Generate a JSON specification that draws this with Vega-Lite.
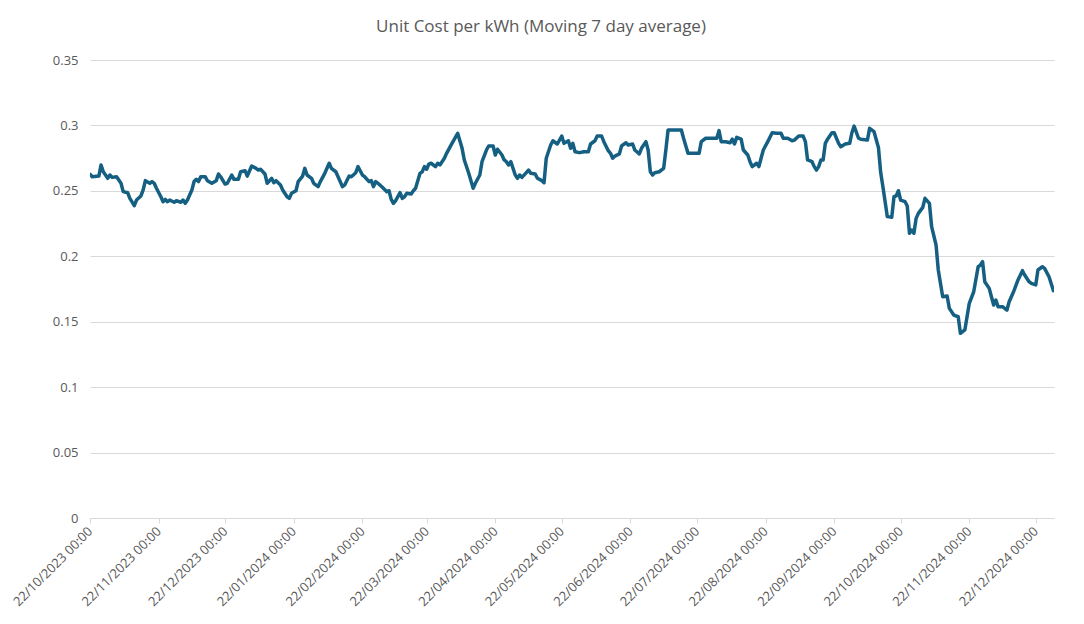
{
  "$schema": "https://vega.github.io/schema/vega-lite/v6.json",
  "width": 964,
  "height": 458,
  "autosize": {"type": "none"},
  "padding": {"left": 90, "top": 60, "right": 30, "bottom": 106},
  "background": "white",
  "title": {
    "text": "Unit Cost per kWh (Moving 7 day average)",
    "fontSize": 17,
    "font": "Open Sans",
    "fontWeight": "normal",
    "color": "#595959",
    "anchor": "middle",
    "dx": -31,
    "offset": 18
  },
  "config": {
    "view": {"stroke": null},
    "axis": {"labelFont": "Open Sans", "labelColor": "#595959", "labelFontSize": 13}
  },
  "data": {
    "values": [
      {"date": "2023-10-22", "cost": 0.2627}, {"date": "2023-10-23", "cost": 0.2608}, {"date": "2023-10-26", "cost": 0.2613}, {"date": "2023-10-27", "cost": 0.2698}, {"date": "2023-10-28", "cost": 0.2646}, {"date": "2023-10-30", "cost": 0.2596}, {"date": "2023-10-31", "cost": 0.2621},
      {"date": "2023-11-01", "cost": 0.2603}, {"date": "2023-11-03", "cost": 0.2608}, {"date": "2023-11-04", "cost": 0.2583}, {"date": "2023-11-05", "cost": 0.2558}, {"date": "2023-11-06", "cost": 0.2494}, {"date": "2023-11-08", "cost": 0.2486}, {"date": "2023-11-09", "cost": 0.2443}, {"date": "2023-11-11", "cost": 0.2387}, {"date": "2023-11-12", "cost": 0.2430}, {"date": "2023-11-14", "cost": 0.2461}, {"date": "2023-11-15", "cost": 0.2507}, {"date": "2023-11-16", "cost": 0.2578}, {"date": "2023-11-18", "cost": 0.2558}, {"date": "2023-11-19", "cost": 0.2571}, {"date": "2023-11-20", "cost": 0.2558}, {"date": "2023-11-21", "cost": 0.2520}, {"date": "2023-11-23", "cost": 0.2455}, {"date": "2023-11-24", "cost": 0.2417}, {"date": "2023-11-25", "cost": 0.2435}, {"date": "2023-11-26", "cost": 0.2417}, {"date": "2023-11-27", "cost": 0.2430}, {"date": "2023-11-29", "cost": 0.2413}, {"date": "2023-11-30", "cost": 0.2425},
      {"date": "2023-12-02", "cost": 0.2413}, {"date": "2023-12-03", "cost": 0.2430}, {"date": "2023-12-04", "cost": 0.2405}, {"date": "2023-12-05", "cost": 0.2430}, {"date": "2023-12-07", "cost": 0.2507}, {"date": "2023-12-08", "cost": 0.2571}, {"date": "2023-12-09", "cost": 0.2588}, {"date": "2023-12-10", "cost": 0.2571}, {"date": "2023-12-11", "cost": 0.2608}, {"date": "2023-12-13", "cost": 0.2608}, {"date": "2023-12-14", "cost": 0.2578}, {"date": "2023-12-16", "cost": 0.2558}, {"date": "2023-12-18", "cost": 0.2578}, {"date": "2023-12-19", "cost": 0.2629}, {"date": "2023-12-20", "cost": 0.2608}, {"date": "2023-12-22", "cost": 0.2552}, {"date": "2023-12-23", "cost": 0.2558}, {"date": "2023-12-25", "cost": 0.2621}, {"date": "2023-12-26", "cost": 0.2588}, {"date": "2023-12-28", "cost": 0.2588}, {"date": "2023-12-29", "cost": 0.2646}, {"date": "2023-12-31", "cost": 0.2654},
      {"date": "2024-01-01", "cost": 0.2613}, {"date": "2024-01-03", "cost": 0.2690}, {"date": "2024-01-05", "cost": 0.2672}, {"date": "2024-01-06", "cost": 0.2659}, {"date": "2024-01-07", "cost": 0.2665}, {"date": "2024-01-09", "cost": 0.2629}, {"date": "2024-01-10", "cost": 0.2558}, {"date": "2024-01-12", "cost": 0.2596}, {"date": "2024-01-13", "cost": 0.2562}, {"date": "2024-01-14", "cost": 0.2578}, {"date": "2024-01-16", "cost": 0.2545}, {"date": "2024-01-17", "cost": 0.2507}, {"date": "2024-01-19", "cost": 0.2455}, {"date": "2024-01-20", "cost": 0.2443}, {"date": "2024-01-21", "cost": 0.2481}, {"date": "2024-01-23", "cost": 0.2501}, {"date": "2024-01-24", "cost": 0.2571}, {"date": "2024-01-26", "cost": 0.2613}, {"date": "2024-01-27", "cost": 0.2672}, {"date": "2024-01-28", "cost": 0.2621}, {"date": "2024-01-30", "cost": 0.2596}, {"date": "2024-01-31", "cost": 0.2558},
      {"date": "2024-02-02", "cost": 0.2532}, {"date": "2024-02-03", "cost": 0.2571}, {"date": "2024-02-05", "cost": 0.2634}, {"date": "2024-02-07", "cost": 0.2711}, {"date": "2024-02-08", "cost": 0.2672}, {"date": "2024-02-10", "cost": 0.2646}, {"date": "2024-02-11", "cost": 0.2608}, {"date": "2024-02-13", "cost": 0.2532}, {"date": "2024-02-14", "cost": 0.2545}, {"date": "2024-02-16", "cost": 0.2613}, {"date": "2024-02-17", "cost": 0.2608}, {"date": "2024-02-19", "cost": 0.2639}, {"date": "2024-02-20", "cost": 0.2685}, {"date": "2024-02-22", "cost": 0.2621}, {"date": "2024-02-23", "cost": 0.2608}, {"date": "2024-02-25", "cost": 0.2571}, {"date": "2024-02-26", "cost": 0.2578}, {"date": "2024-02-27", "cost": 0.2532}, {"date": "2024-02-28", "cost": 0.2571}, {"date": "2024-02-29", "cost": 0.2558},
      {"date": "2024-03-02", "cost": 0.2527}, {"date": "2024-03-04", "cost": 0.2494}, {"date": "2024-03-05", "cost": 0.2501}, {"date": "2024-03-06", "cost": 0.2435}, {"date": "2024-03-07", "cost": 0.2405}, {"date": "2024-03-08", "cost": 0.2425}, {"date": "2024-03-10", "cost": 0.2486}, {"date": "2024-03-11", "cost": 0.2443}, {"date": "2024-03-12", "cost": 0.2455}, {"date": "2024-03-13", "cost": 0.2481}, {"date": "2024-03-15", "cost": 0.2476}, {"date": "2024-03-16", "cost": 0.2501}, {"date": "2024-03-17", "cost": 0.2520}, {"date": "2024-03-19", "cost": 0.2634}, {"date": "2024-03-20", "cost": 0.2646}, {"date": "2024-03-21", "cost": 0.2685}, {"date": "2024-03-22", "cost": 0.2665}, {"date": "2024-03-23", "cost": 0.2705}, {"date": "2024-03-24", "cost": 0.2711}, {"date": "2024-03-26", "cost": 0.2685}, {"date": "2024-03-27", "cost": 0.2711}, {"date": "2024-03-28", "cost": 0.2698}, {"date": "2024-03-30", "cost": 0.2749}, {"date": "2024-03-31", "cost": 0.2787},
      {"date": "2024-04-02", "cost": 0.2850}, {"date": "2024-04-05", "cost": 0.2940}, {"date": "2024-04-06", "cost": 0.2883}, {"date": "2024-04-07", "cost": 0.2825}, {"date": "2024-04-08", "cost": 0.2736}, {"date": "2024-04-10", "cost": 0.2634}, {"date": "2024-04-12", "cost": 0.2520}, {"date": "2024-04-13", "cost": 0.2558}, {"date": "2024-04-15", "cost": 0.2621}, {"date": "2024-04-16", "cost": 0.2723}, {"date": "2024-04-18", "cost": 0.2812}, {"date": "2024-04-19", "cost": 0.2843}, {"date": "2024-04-21", "cost": 0.2843}, {"date": "2024-04-22", "cost": 0.2774}, {"date": "2024-04-23", "cost": 0.2818}, {"date": "2024-04-25", "cost": 0.2774}, {"date": "2024-04-26", "cost": 0.2736}, {"date": "2024-04-27", "cost": 0.2723}, {"date": "2024-04-28", "cost": 0.2698}, {"date": "2024-04-29", "cost": 0.2723},
      {"date": "2024-05-01", "cost": 0.2621}, {"date": "2024-05-02", "cost": 0.2596}, {"date": "2024-05-03", "cost": 0.2621}, {"date": "2024-05-04", "cost": 0.2603}, {"date": "2024-05-06", "cost": 0.2639}, {"date": "2024-05-07", "cost": 0.2659}, {"date": "2024-05-08", "cost": 0.2634}, {"date": "2024-05-10", "cost": 0.2629}, {"date": "2024-05-11", "cost": 0.2596}, {"date": "2024-05-13", "cost": 0.2578}, {"date": "2024-05-14", "cost": 0.2562}, {"date": "2024-05-15", "cost": 0.2749}, {"date": "2024-05-17", "cost": 0.2850}, {"date": "2024-05-18", "cost": 0.2883}, {"date": "2024-05-20", "cost": 0.2858}, {"date": "2024-05-22", "cost": 0.2919}, {"date": "2024-05-23", "cost": 0.2863}, {"date": "2024-05-25", "cost": 0.2883}, {"date": "2024-05-26", "cost": 0.2825}, {"date": "2024-05-27", "cost": 0.2863}, {"date": "2024-05-28", "cost": 0.2799}, {"date": "2024-05-30", "cost": 0.2792},
      {"date": "2024-06-01", "cost": 0.2799}, {"date": "2024-06-03", "cost": 0.2799}, {"date": "2024-06-04", "cost": 0.2858}, {"date": "2024-06-06", "cost": 0.2883}, {"date": "2024-06-07", "cost": 0.2919}, {"date": "2024-06-09", "cost": 0.2919}, {"date": "2024-06-10", "cost": 0.2876}, {"date": "2024-06-12", "cost": 0.2807}, {"date": "2024-06-13", "cost": 0.2787}, {"date": "2024-06-14", "cost": 0.2749}, {"date": "2024-06-15", "cost": 0.2766}, {"date": "2024-06-17", "cost": 0.2782}, {"date": "2024-06-18", "cost": 0.2843}, {"date": "2024-06-20", "cost": 0.2868}, {"date": "2024-06-21", "cost": 0.2850}, {"date": "2024-06-23", "cost": 0.2858}, {"date": "2024-06-24", "cost": 0.2812}, {"date": "2024-06-26", "cost": 0.2782}, {"date": "2024-06-27", "cost": 0.2825}, {"date": "2024-06-29", "cost": 0.2876}, {"date": "2024-06-30", "cost": 0.2812},
      {"date": "2024-07-01", "cost": 0.2646}, {"date": "2024-07-02", "cost": 0.2621}, {"date": "2024-07-03", "cost": 0.2639}, {"date": "2024-07-05", "cost": 0.2646}, {"date": "2024-07-07", "cost": 0.2672}, {"date": "2024-07-08", "cost": 0.2812}, {"date": "2024-07-09", "cost": 0.2965}, {"date": "2024-07-12", "cost": 0.2965}, {"date": "2024-07-15", "cost": 0.2965}, {"date": "2024-07-16", "cost": 0.2902}, {"date": "2024-07-18", "cost": 0.2787}, {"date": "2024-07-20", "cost": 0.2787}, {"date": "2024-07-23", "cost": 0.2787}, {"date": "2024-07-24", "cost": 0.2876}, {"date": "2024-07-26", "cost": 0.2902}, {"date": "2024-07-29", "cost": 0.2902}, {"date": "2024-07-31", "cost": 0.2902},
      {"date": "2024-08-01", "cost": 0.2960}, {"date": "2024-08-02", "cost": 0.2876}, {"date": "2024-08-04", "cost": 0.2875}, {"date": "2024-08-06", "cost": 0.2868}, {"date": "2024-08-07", "cost": 0.2895}, {"date": "2024-08-08", "cost": 0.2858}, {"date": "2024-08-09", "cost": 0.2909}, {"date": "2024-08-11", "cost": 0.2895}, {"date": "2024-08-12", "cost": 0.2812}, {"date": "2024-08-14", "cost": 0.2774}, {"date": "2024-08-15", "cost": 0.2723}, {"date": "2024-08-16", "cost": 0.2685}, {"date": "2024-08-18", "cost": 0.2711}, {"date": "2024-08-19", "cost": 0.2685}, {"date": "2024-08-20", "cost": 0.2749}, {"date": "2024-08-21", "cost": 0.2812}, {"date": "2024-08-23", "cost": 0.2876}, {"date": "2024-08-25", "cost": 0.2944}, {"date": "2024-08-27", "cost": 0.2940}, {"date": "2024-08-29", "cost": 0.2940}, {"date": "2024-08-30", "cost": 0.2902},
      {"date": "2024-09-01", "cost": 0.2902}, {"date": "2024-09-03", "cost": 0.2883}, {"date": "2024-09-04", "cost": 0.2888}, {"date": "2024-09-06", "cost": 0.2919}, {"date": "2024-09-08", "cost": 0.2919}, {"date": "2024-09-09", "cost": 0.2876}, {"date": "2024-09-10", "cost": 0.2736}, {"date": "2024-09-12", "cost": 0.2723}, {"date": "2024-09-13", "cost": 0.2685}, {"date": "2024-09-14", "cost": 0.2659}, {"date": "2024-09-15", "cost": 0.2685}, {"date": "2024-09-16", "cost": 0.2736}, {"date": "2024-09-17", "cost": 0.2736}, {"date": "2024-09-18", "cost": 0.2863}, {"date": "2024-09-19", "cost": 0.2895}, {"date": "2024-09-21", "cost": 0.2944}, {"date": "2024-09-22", "cost": 0.2944}, {"date": "2024-09-24", "cost": 0.2863}, {"date": "2024-09-25", "cost": 0.2837}, {"date": "2024-09-27", "cost": 0.2858}, {"date": "2024-09-29", "cost": 0.2863}, {"date": "2024-09-30", "cost": 0.2944},
      {"date": "2024-10-01", "cost": 0.2995}, {"date": "2024-10-03", "cost": 0.2902}, {"date": "2024-10-04", "cost": 0.2895}, {"date": "2024-10-07", "cost": 0.2888}, {"date": "2024-10-08", "cost": 0.2978}, {"date": "2024-10-10", "cost": 0.2952}, {"date": "2024-10-12", "cost": 0.2830}, {"date": "2024-10-13", "cost": 0.2640}, {"date": "2024-10-14", "cost": 0.2532}, {"date": "2024-10-16", "cost": 0.2303}, {"date": "2024-10-18", "cost": 0.2298}, {"date": "2024-10-19", "cost": 0.2455}, {"date": "2024-10-20", "cost": 0.2461}, {"date": "2024-10-21", "cost": 0.2501}, {"date": "2024-10-22", "cost": 0.2430}, {"date": "2024-10-24", "cost": 0.2417}, {"date": "2024-10-25", "cost": 0.2384}, {"date": "2024-10-26", "cost": 0.2176}, {"date": "2024-10-27", "cost": 0.2201}, {"date": "2024-10-28", "cost": 0.2176}, {"date": "2024-10-29", "cost": 0.2290}, {"date": "2024-10-30", "cost": 0.2328},
      {"date": "2024-11-01", "cost": 0.2374}, {"date": "2024-11-02", "cost": 0.2443}, {"date": "2024-11-04", "cost": 0.2405}, {"date": "2024-11-05", "cost": 0.2226}, {"date": "2024-11-07", "cost": 0.2086}, {"date": "2024-11-08", "cost": 0.1895}, {"date": "2024-11-10", "cost": 0.1691}, {"date": "2024-11-12", "cost": 0.1697}, {"date": "2024-11-13", "cost": 0.1602}, {"date": "2024-11-15", "cost": 0.1551}, {"date": "2024-11-17", "cost": 0.1538}, {"date": "2024-11-18", "cost": 0.1411}, {"date": "2024-11-20", "cost": 0.1437}, {"date": "2024-11-22", "cost": 0.1641}, {"date": "2024-11-24", "cost": 0.1729}, {"date": "2024-11-26", "cost": 0.1920}, {"date": "2024-11-27", "cost": 0.1933}, {"date": "2024-11-28", "cost": 0.1959}, {"date": "2024-11-29", "cost": 0.1806},
      {"date": "2024-12-01", "cost": 0.1755}, {"date": "2024-12-02", "cost": 0.1691}, {"date": "2024-12-03", "cost": 0.1628}, {"date": "2024-12-04", "cost": 0.1666}, {"date": "2024-12-05", "cost": 0.1615}, {"date": "2024-12-07", "cost": 0.1615}, {"date": "2024-12-09", "cost": 0.1589}, {"date": "2024-12-10", "cost": 0.1653}, {"date": "2024-12-12", "cost": 0.1729}, {"date": "2024-12-14", "cost": 0.1819}, {"date": "2024-12-16", "cost": 0.1890}, {"date": "2024-12-17", "cost": 0.1857}, {"date": "2024-12-19", "cost": 0.1806}, {"date": "2024-12-20", "cost": 0.1793}, {"date": "2024-12-22", "cost": 0.1781}, {"date": "2024-12-23", "cost": 0.1895}, {"date": "2024-12-25", "cost": 0.1920}, {"date": "2024-12-26", "cost": 0.1908}, {"date": "2024-12-28", "cost": 0.1844}, {"date": "2024-12-30", "cost": 0.1737}
    ]
  },
  "mark": {"type": "line", "color": "#156082", "strokeWidth": 3.5, "strokeJoin": "round", "strokeCap": "round", "clip": true},
  "encoding": {
    "x": {
      "field": "date",
      "type": "temporal",
      "title": null,
      "scale": {
        "type": "utc",
        "domain": [
          {"year": 2023, "month": 10, "date": 22, "utc": true},
          {"year": 2024, "month": 12, "date": 30, "hours": 6, "utc": true}
        ],
        "nice": false
      },
      "axis": {
        "values": [
          {"year": 2023, "month": 10, "date": 22, "utc": true},
          {"year": 2023, "month": 11, "date": 22, "utc": true},
          {"year": 2023, "month": 12, "date": 22, "utc": true},
          {"year": 2024, "month": 1, "date": 22, "utc": true},
          {"year": 2024, "month": 2, "date": 22, "utc": true},
          {"year": 2024, "month": 3, "date": 22, "utc": true},
          {"year": 2024, "month": 4, "date": 22, "utc": true},
          {"year": 2024, "month": 5, "date": 22, "utc": true},
          {"year": 2024, "month": 6, "date": 22, "utc": true},
          {"year": 2024, "month": 7, "date": 22, "utc": true},
          {"year": 2024, "month": 8, "date": 22, "utc": true},
          {"year": 2024, "month": 9, "date": 22, "utc": true},
          {"year": 2024, "month": 10, "date": 22, "utc": true},
          {"year": 2024, "month": 11, "date": 22, "utc": true},
          {"year": 2024, "month": 12, "date": 22, "utc": true}
        ],
        "format": "%d/%m/%Y %H:%M",
        "labelAngle": -45,
        "labelAlign": "right",
        "labelBaseline": "middle",
        "labelPadding": 6,
        "labelFontSize": 13,
        "labelOverlap": false,
        "labelBound": false,
        "grid": false,
        "domainColor": "#d9d9d9",
        "tickColor": "#d9d9d9",
        "tickSize": 5
      }
    },
    "y": {
      "field": "cost",
      "type": "quantitative",
      "title": null,
      "scale": {"domain": [0, 0.35], "nice": false, "zero": true},
      "axis": {
        "values": [0, 0.05, 0.1, 0.15, 0.2, 0.25, 0.3, 0.35],
        "format": ".2~f",
        "domain": false,
        "ticks": false,
        "grid": true,
        "gridColor": "#d9d9d9",
        "labelPadding": 12
      }
    }
  }
}
